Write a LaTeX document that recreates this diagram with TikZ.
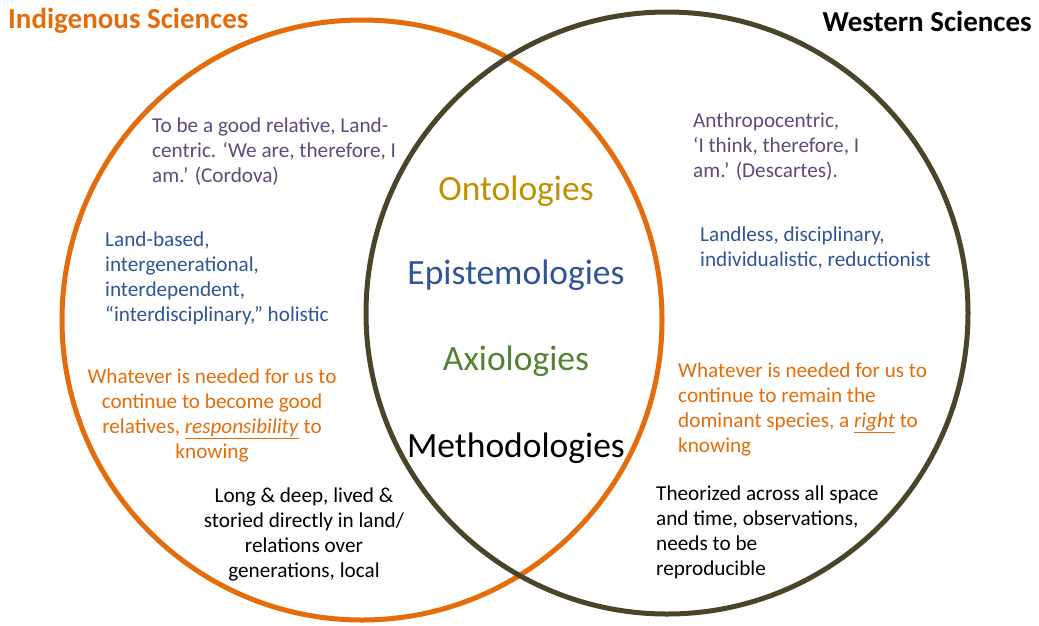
\documentclass[tikz,border=0pt]{standalone}
\usepackage{fontspec}
\setmainfont{Carlito}
\usepackage{xcolor}
\definecolor{indorange}{HTML}{E46C0A}
\definecolor{westbrown}{HTML}{4A452A}
\definecolor{ontogold}{HTML}{BF9000}
\definecolor{epiblue}{HTML}{2F5597}
\definecolor{axigreen}{HTML}{548235}
\definecolor{relpurple}{HTML}{5F497A}

\begin{document}
\begin{tikzpicture}[
  x=1pt, y=-1pt,
  every node/.style={inner sep=0pt},
  sciencetitle/.style={font=\fontsize{29}{34}\selectfont\bfseries},
  bodytext/.style={font=\fontsize{21.2}{24.8}\selectfont, align=left, anchor=north west},
  centretext/.style={font=\fontsize{21.2}{24.8}\selectfont, align=center, anchor=north},
  bigword/.style={font=\fontsize{35.5}{40}\selectfont}
]
\useasboundingbox (0,0) rectangle (1039,625);
% Circles
\draw[indorange, line width=5pt] (362,320) circle[radius=300];
\draw[westbrown, line width=5pt] (667,313) circle[radius=301];

% Titles
\node[sciencetitle, indorange, anchor=west] (indtitle) at (8,21) {Indigenous Sciences};
\node[sciencetitle, black, anchor=east] (westtitle) at (1032,21) {Western Sciences};

% Overlap words
\node[bigword, ontogold] (onto) at (516,191) {Ontologies};
\node[bigword, epiblue] (episte) at (516,275) {Epistemologies};
\node[bigword, axigreen] (axio) at (516,361) {Axiologies};
\node[bigword, black] (method) at (516,448) {Methodologies};

% Indigenous side
\node[bodytext, relpurple] (indonto) at (152,118)
  {To be a good relative, Land-\\centric. ‘We are, therefore, I\\am.’ (Cordova)};
\node[bodytext, epiblue] (indepi) at (105,232)
  {Land-based,\\intergenerational,\\interdependent,\\“interdisciplinary,” holistic};
\node[centretext, indorange] (indaxio) at (212,369)
  {Whatever is needed for us to\\continue to become good\\relatives, \underline{\textit{responsibility}} to\\knowing};
\node[centretext, black] (indmethod) at (304,488)
  {Long \& deep, lived \&\\storied directly in land/\\relations over\\generations, local};

% Western side
\node[bodytext, relpurple] (westonto) at (693,113)
  {Anthropocentric,\\‘I think, therefore, I\\am.’ (Descartes).};
\node[bodytext, epiblue] (westepi) at (700,227)
  {Landless, disciplinary,\\individualistic, reductionist};
\node[bodytext, indorange] (westaxio) at (678,363)
  {Whatever is needed for us to\\continue to remain the\\dominant species, a \underline{\textit{right}} to\\knowing};
\node[bodytext, black] (westmethod) at (656,486)
  {Theorized across all space\\and time, observations,\\needs to be\\reproducible};
\end{tikzpicture}
\end{document}
